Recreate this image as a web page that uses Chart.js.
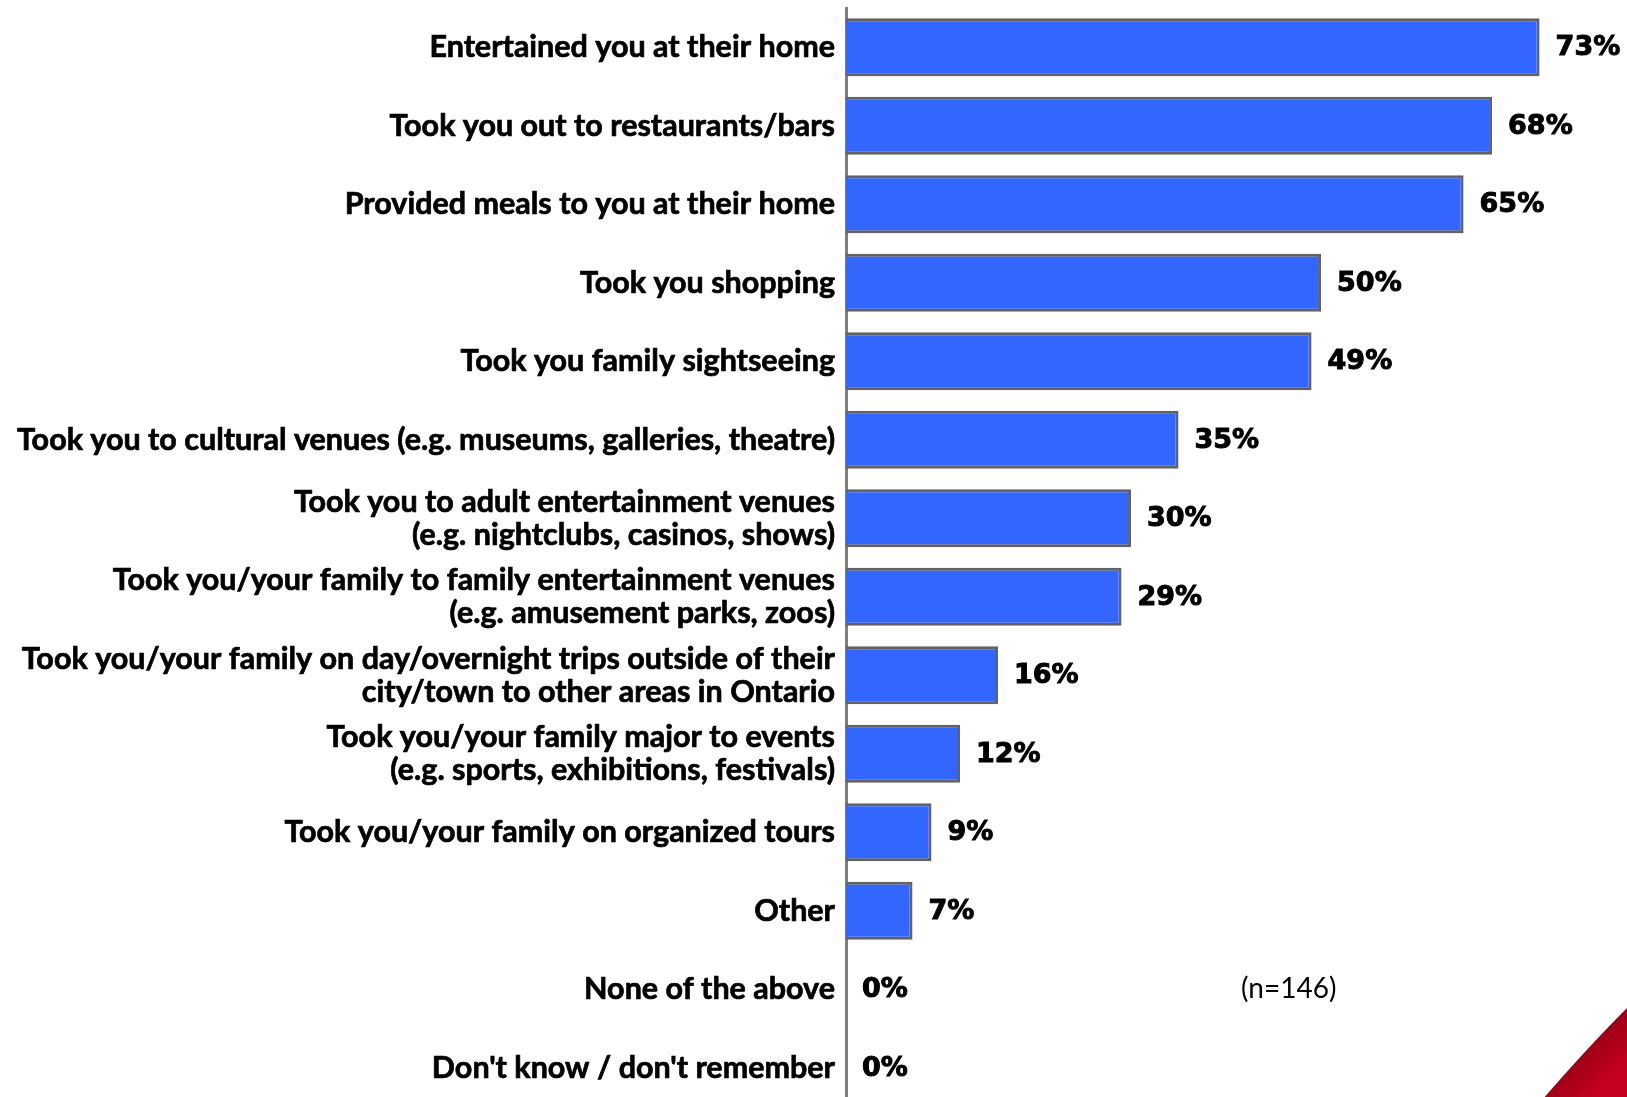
<!DOCTYPE html>
<html>
<head>
<meta charset="utf-8">
<title>Hospitality provided</title>
<script src="https://cdn.jsdelivr.net/npm/chart.js@4/dist/chart.umd.min.js"></script>
<style>
  html, body { margin: 0; padding: 0; background: #fff; overflow: hidden; }
  canvas { display: block; }
</style>
</head>
<body>
<canvas id="chart" width="1627" height="1107"></canvas>
<script>
const categories = [
  "Entertained you at their home",
  "Took you out to restaurants/bars",
  "Provided meals to you at their home",
  "Took you shopping",
  "Took you family sightseeing",
  "Took you to cultural venues (e.g. museums, galleries, theatre)",
  ["Took you to adult entertainment venues", "(e.g. nightclubs, casinos, shows)"],
  ["Took you/your family to family entertainment venues", "(e.g. amusement parks, zoos)"],
  ["Took you/your family on day/overnight trips outside of their", "city/town to other areas in Ontario"],
  ["Took you/your family major to events", "(e.g. sports, exhibitions, festivals)"],
  "Took you/your family on organized tours",
  "Other",
  "None of the above",
  "Don't know / don't remember"
];
const percents = [73, 68, 65, 50, 49, 35, 30, 29, 16, 12, 9, 7, 0, 0];
const sampleNote = "(n=146)";

// value labels to the right of each bar
const valueLabels = {
  id: "valueLabels",
  afterDatasetsDraw(chart) {
    const ctx = chart.ctx;
    const meta = chart.getDatasetMeta(0);
    ctx.save();
    ctx.font = "bold 27px 'DejaVu Sans'";
    ctx.fillStyle = "#000";
    ctx.strokeStyle = "#000";
    ctx.lineWidth = 1;
    ctx.textAlign = "left";
    ctx.textBaseline = "middle";
    meta.data.forEach((bar, i) => {
      const label = percents[i] + "%";
      ctx.fillText(label, bar.x + 16, bar.y + 1);
      ctx.strokeText(label, bar.x + 16, bar.y + 1);
    });
    // sample size note
    const x = chart.scales.x.getPixelForValue(46.6);
    const y = chart.scales.y.getPixelForValue(12);
    ctx.font = "28px Lato";
    ctx.textAlign = "center";
    ctx.fillText(sampleNote, x, y);
    ctx.restore();
  }
};

// red swoosh in the bottom right corner
const cornerMark = {
  id: "cornerMark",
  afterDraw(chart) {
    const ctx = chart.ctx;
    const g = ctx.createLinearGradient(1560, 1050, 1600, 1090);
    g.addColorStop(0, "#3a0008");
    g.addColorStop(0.25, "#9a0016");
    g.addColorStop(1, "#c4001e");
    ctx.save();
    ctx.fillStyle = g;
    ctx.beginPath();
    ctx.moveTo(1536, 1107);
    ctx.quadraticCurveTo(1585, 1050, 1627, 1008);
    ctx.lineTo(1627, 1107);
    ctx.closePath();
    ctx.fill();
    ctx.restore();
  }
};

new Chart(document.getElementById("chart"), {
  type: "bar",
  data: {
    labels: categories,
    datasets: [{
      data: percents,
      backgroundColor: "#3366ff",
      borderColor: "#636363",
      borderWidth: 3,
      barPercentage: 0.74,
      categoryPercentage: 1
    }]
  },
  options: {
    indexAxis: "y",
    responsive: false,
    animation: false,
    layout: { padding: { top: 8, right: 0, bottom: 0, left: 0 } },
    plugins: { legend: { display: false }, tooltip: { enabled: false } },
    scales: {
      x: {
        display: false,
        min: 0,
        max: 82.2
      },
      y: {
        afterFit(scale) {
          scale.width = 846;
          scale.paddingTop = 0;
          scale.paddingBottom = 0;
        },
        grid: { display: false, drawTicks: false },
        border: { display: true, color: "#7f7f7f", width: 3 },
        ticks: {
          color: "#000",
          padding: 11,
          textStrokeColor: "#000",
          textStrokeWidth: 0.7,
          font: { family: "Lato", weight: "bold", size: 30.5, lineHeight: 1.08 }
        }
      }
    }
  },
  plugins: [valueLabels, cornerMark]
});
</script>
</body>
</html>
